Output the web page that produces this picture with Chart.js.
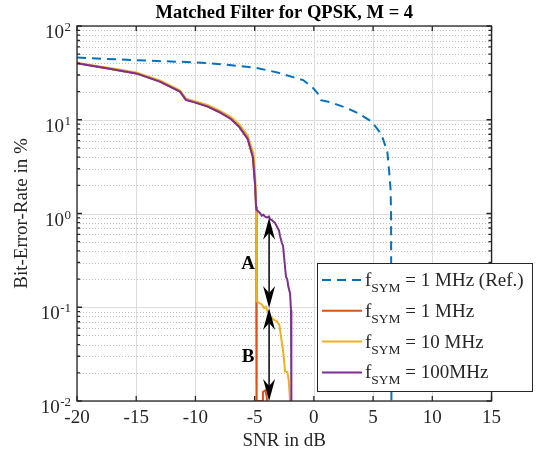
<!DOCTYPE html>
<html>
<head>
<meta charset="utf-8">
<script src="https://cdn.jsdelivr.net/npm/chart.js@4.4.1/dist/chart.umd.min.js"></script>
<style>
  html, body { margin: 0; padding: 0; background: #fff; }
</style>
</head>
<body>
<canvas id="berChart" width="537" height="455"></canvas>
<script>
// Matched filter for QPSK (M = 4): bit error rate in percent over SNR in dB

// reference curve, f_SYM = 1 MHz
const refSnr = [-20, -17.5, -15, -12.5, -10, -7.5, -5, -3, -1.7, -0.9, -0.1, 0.3, 0.6, 1.4, 2.8, 3.7, 4.9, 5.7, 6.2, 6.35, 6.48, 6.52, 6.55];
const refBer = [46, 44.6, 43.2, 42, 41, 38.8, 36, 31.8, 28.3, 26.5, 22, 19.3, 16.2, 15.4, 13.3, 11.8, 9.5, 7.0, 4.6, 2.9, 1.78, 1.0, 0.01];

// f_SYM = 1 MHz
const mf1Snr = [-20, -17.5, -15, -13, -11.55, -11.3, -10.8, -10.2, -9, -8, -7, -6.3, -5.6, -5.15, -4.97, -4.88, -4.83, -4.35, -4.3, -4.1, -4.0, -3.95];
const mf1Ber = [40.0, 35.4, 31.2, 25.5, 20.7, 19.9, 16.3, 15.5, 13.9, 12.1, 10.2, 8.4, 6.3, 4.0, 2.1, 1.18, 0.01, 0.01, 0.0125, 0.013, 0.0115, 0.01];

// f_SYM = 10 MHz
const mf10Snr = [-20, -17.5, -15, -13, -11.55, -11.3, -10.8, -10.2, -9, -8, -7, -6.3, -5.6, -5.1, -4.94, -4.88, -4.86, -4.69, -4.4, -4.2, -4.05, -3.93, -3.8, -3.7, -3.42, -3.13, -2.91, -2.77, -2.57, -2.43, -2.24, -2.12, -2.01];
const mf10Ber = [40.4, 36, 32, 26.3, 21.4, 20.5, 16.8, 16, 14.4, 12.6, 10.7, 8.9, 6.8, 4.4, 2.3, 1.2, 0.117, 0.113, 0.107, 0.098, 0.101, 0.091, 0.087, 0.080, 0.074, 0.071, 0.065, 0.048, 0.032, 0.0206, 0.0203, 0.0166, 0.01];

// f_SYM = 100 MHz
const mf100Snr = [-20, -17.5, -15, -13, -11.55, -11.3, -10.8, -10.2, -9, -8, -7, -6.3, -5.6, -5.15, -4.97, -4.88, -4.85, -4.69, -4.54, -4.4, -4.26, -4.1, -3.93, -3.8, -3.7, -3.55, -3.42, -3.3, -3.13, -2.95, -2.85, -2.71, -2.6, -2.52, -2.35, -2.25, -2.16, -2.01, -1.93, -1.9];
const mf100Ber = [40.0, 35.4, 31.2, 25.5, 20.7, 19.9, 16.3, 15.5, 13.9, 12.1, 10.2, 8.4, 6.3, 4.0, 2.1, 1.18, 1.1, 1.05, 1.01, 0.95, 0.97, 0.92, 0.91, 0.93, 0.87, 0.85, 0.82, 0.8, 0.73, 0.66, 0.57, 0.49, 0.45, 0.35, 0.21, 0.2, 0.167, 0.141, 0.093, 0.01];

const legendValues = ['1 MHz (Ref.)', '1 MHz', '10 MHz', '100MHz'];

// axes
const xTicks = [-20, -15, -10, -5, 0, 5, 10, 15];
const yDecades = [0.01, 0.1, 1, 10, 100];
const yExponents = ['-2', '-1', '0', '1', '2'];
const minorSteps = [2, 3, 4, 5, 6, 7, 8, 9];

// double arrows A and B (SNR, BER from -> to) with their letters
const arrowSnr = -3.78;
const arrowA = [0.9, 0.098];
const arrowB = [0.098, 0.01];
const markLetters = ['A', 'B'];
const markSnr = [-5.56, -5.56];
const markBer = [0.29, 0.0294];

const SERIF = '"Liberation Serif", "Times New Roman", Times, serif';
const AXIS_COLOR = '#262626';

const toPoints = (xs, ys) => xs.map((x, i) => ({ x: x, y: ys[i] }));

function arrowHead(ctx, x, tipY, dir) {
    // dir = 1 points down, -1 points up
    const len = 22, half = 6, notch = 15;
    ctx.beginPath();
    ctx.moveTo(x, tipY);
    ctx.lineTo(x - half, tipY - dir * len);
    ctx.lineTo(x, tipY - dir * notch);
    ctx.lineTo(x + half, tipY - dir * len);
    ctx.closePath();
    ctx.fill();
}

function doubleArrow(ctx, x, y1, y2) {
    ctx.beginPath();
    ctx.moveTo(x, y1 + 10);
    ctx.lineTo(x, y2 - 10);
    ctx.stroke();
    arrowHead(ctx, x, y1, -1);
    arrowHead(ctx, x, y2, 1);
}

const gridPlugin = {
    id: 'matlabGrid',
    beforeDatasetsDraw(chart) {
        const { ctx, chartArea: a, scales: { x, y } } = chart;
        ctx.save();
        ctx.lineWidth = 1;

        // dotted minor grid
        ctx.strokeStyle = '#bdbdbd';
        ctx.setLineDash([1, 2]);
        yDecades.slice(0, -1).forEach(d => {
            minorSteps.forEach(m => {
                const py = Math.round(y.getPixelForValue(d * m)) + 0.5;
                ctx.beginPath();
                ctx.moveTo(a.left, py);
                ctx.lineTo(a.right, py);
                ctx.stroke();
            });
        });

        // solid major grid
        ctx.setLineDash([]);
        ctx.strokeStyle = '#dcdcdc';
        yDecades.forEach(d => {
            const py = Math.round(y.getPixelForValue(d)) + 0.5;
            ctx.beginPath();
            ctx.moveTo(a.left, py);
            ctx.lineTo(a.right, py);
            ctx.stroke();
        });
        xTicks.forEach(t => {
            const px = Math.round(x.getPixelForValue(t)) + 0.5;
            ctx.beginPath();
            ctx.moveTo(px, a.top);
            ctx.lineTo(px, a.bottom);
            ctx.stroke();
        });
        ctx.restore();
    }
};

const overlayPlugin = {
    id: 'overlay',
    afterDatasetsDraw(chart) {
        const { ctx, chartArea: a, scales: { x, y } } = chart;
        ctx.save();

        // box and inward ticks
        ctx.strokeStyle = AXIS_COLOR;
        ctx.lineWidth = 1.3;
        ctx.strokeRect(a.left, a.top, a.right - a.left, a.bottom - a.top);
        ctx.beginPath();
        xTicks.forEach(t => {
            const px = x.getPixelForValue(t);
            ctx.moveTo(px, a.bottom); ctx.lineTo(px, a.bottom - 5);
            ctx.moveTo(px, a.top); ctx.lineTo(px, a.top + 5);
        });
        yDecades.forEach((d, i) => {
            const py = y.getPixelForValue(d);
            ctx.moveTo(a.left, py); ctx.lineTo(a.left + 5, py);
            ctx.moveTo(a.right, py); ctx.lineTo(a.right - 5, py);
            if (i < yDecades.length - 1) {
                minorSteps.forEach(m => {
                    const pm = y.getPixelForValue(d * m);
                    ctx.moveTo(a.left, pm); ctx.lineTo(a.left + 3, pm);
                    ctx.moveTo(a.right, pm); ctx.lineTo(a.right - 3, pm);
                });
            }
        });
        ctx.stroke();

        // y tick labels as 10^n
        ctx.fillStyle = AXIS_COLOR;
        ctx.textAlign = 'right';
        ctx.textBaseline = 'alphabetic';
        yDecades.forEach((d, i) => {
            const py = y.getPixelForValue(d);
            const right = a.left - 6;
            ctx.font = `13px ${SERIF}`;
            const supW = ctx.measureText(yExponents[i]).width;
            ctx.fillText(yExponents[i], right, py + 5);
            ctx.font = `19px ${SERIF}`;
            ctx.fillText('10', right - supW - 0.5, py + 12);
        });

        // arrows A and B
        ctx.fillStyle = '#000';
        ctx.strokeStyle = '#000';
        ctx.lineWidth = 1.5;
        const ax = x.getPixelForValue(arrowSnr);
        doubleArrow(ctx, ax, y.getPixelForValue(arrowA[0]), y.getPixelForValue(arrowA[1]));
        doubleArrow(ctx, ax, y.getPixelForValue(arrowB[0]), y.getPixelForValue(arrowB[1]));
        ctx.font = `bold 19px ${SERIF}`;
        ctx.textAlign = 'center';
        ctx.textBaseline = 'middle';
        markLetters.forEach((t, i) => {
            ctx.fillText(t, x.getPixelForValue(markSnr[i]), y.getPixelForValue(markBer[i]));
        });

        // legend
        const box = { l: 317.5, t: 263.5, r: 532.5, b: 391.5 };
        ctx.fillStyle = '#fff';
        ctx.fillRect(box.l, box.t, box.r - box.l, box.b - box.t);
        ctx.strokeStyle = AXIS_COLOR;
        ctx.lineWidth = 1;
        ctx.setLineDash([]);
        ctx.strokeRect(box.l, box.t, box.r - box.l, box.b - box.t);
        ctx.textAlign = 'left';
        ctx.textBaseline = 'alphabetic';
        chart.data.datasets.forEach((ds, i) => {
            const rowY = 280 + i * 30.8;
            ctx.strokeStyle = ds.borderColor;
            ctx.lineWidth = ds.borderWidth;
            ctx.setLineDash(ds.borderDash || []);
            ctx.beginPath();
            ctx.moveTo(322, rowY);
            ctx.lineTo(362, rowY);
            ctx.stroke();
            ctx.setLineDash([]);
            ctx.fillStyle = AXIS_COLOR;
            let tx = 365;
            ctx.font = `19px ${SERIF}`;
            ctx.fillText('f', tx, rowY + 6);
            tx += ctx.measureText('f').width;
            ctx.font = `13.5px ${SERIF}`;
            ctx.fillText('SYM', tx, rowY + 12);
            tx += ctx.measureText('SYM').width;
            ctx.font = `19px ${SERIF}`;
            ctx.fillText(' = ' + legendValues[i], tx, rowY + 6);
        });
        ctx.restore();
    }
};

new Chart(document.getElementById('berChart'), {
    type: 'line',
    data: {
        datasets: [
            {
                label: legendValues[0],
                data: toPoints(refSnr, refBer),
                borderColor: '#0072BD',
                borderWidth: 2,
                borderDash: [9, 6],
                order: 3
            },
            {
                label: legendValues[1],
                data: toPoints(mf1Snr, mf1Ber),
                borderColor: '#D95319',
                borderWidth: 2,
                order: 2
            },
            {
                label: legendValues[2],
                data: toPoints(mf10Snr, mf10Ber),
                borderColor: '#EDB120',
                borderWidth: 2,
                order: 1
            },
            {
                label: legendValues[3],
                data: toPoints(mf100Snr, mf100Ber),
                borderColor: '#7E2F8E',
                borderWidth: 2,
                order: 0
            }
        ]
    },
    options: {
        responsive: false,
        animation: false,
        devicePixelRatio: 1,
        datasets: { line: { pointRadius: 0, tension: 0, fill: false } },
        layout: { padding: { left: 0, right: 45.5, top: 0, bottom: 0 } },
        plugins: {
            legend: { display: false },
            tooltip: { enabled: false },
            title: {
                display: true,
                fullSize: false,
                text: 'Matched Filter for QPSK, M = 4',
                color: '#000',
                font: { family: SERIF, size: 18.5, weight: 'bold', lineHeight: 1.2 },
                padding: { top: 2.4, bottom: 1.4 }
            }
        },
        scales: {
            x: {
                type: 'linear',
                min: -20,
                max: 15,
                afterFit: s => { s.height = 54; },
                afterBuildTicks: s => { s.ticks = xTicks.map(v => ({ value: v })); },
                ticks: { color: AXIS_COLOR, padding: 6, font: { family: SERIF, size: 19 } },
                grid: { display: false, drawTicks: false },
                border: { display: false },
                title: {
                    display: true,
                    text: 'SNR in dB',
                    color: AXIS_COLOR,
                    font: { family: SERIF, size: 19 },
                    padding: { top: 0, bottom: 2.6 }
                }
            },
            y: {
                type: 'logarithmic',
                min: 0.01,
                max: 100,
                afterFit: s => { s.width = 77; },
                afterBuildTicks: s => { s.ticks = yDecades.map(v => ({ value: v })); },
                ticks: { display: false },
                grid: { display: false, drawTicks: false },
                border: { display: false },
                title: {
                    display: true,
                    text: 'Bit-Error-Rate in %',
                    color: AXIS_COLOR,
                    font: { family: SERIF, size: 19 },
                    padding: { top: 10.6, bottom: 0 }
                }
            }
        }
    },
    plugins: [gridPlugin, overlayPlugin]
});
</script>
</body>
</html>
